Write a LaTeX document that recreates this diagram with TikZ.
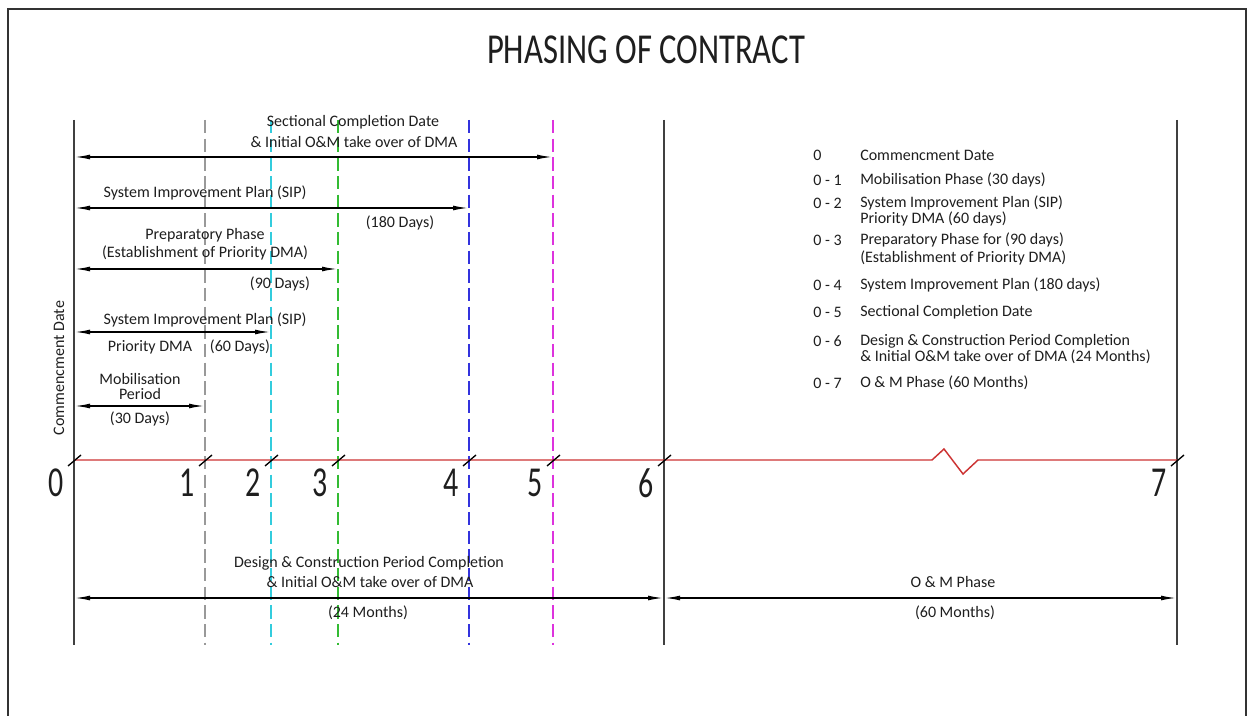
\documentclass[tikz,border=0pt]{standalone}
\usepackage{fontspec}
\setmainfont{Carlito}
\usetikzlibrary{arrows.meta}
\definecolor{axred}{HTML}{CC3333}
\definecolor{lcyan}{HTML}{33CCDD}
\definecolor{lgreen}{HTML}{33BB33}
\definecolor{lblue}{HTML}{3333DD}
\definecolor{lmag}{HTML}{DD33DD}
\definecolor{txtc}{HTML}{1E1E1E}
\begin{document}
\begin{tikzpicture}[x=0.75pt,y=-0.75pt,
  txt/.style={font=\fontsize{12}{13}\selectfont, text=txtc, inner sep=0pt},
  leg/.style={txt, anchor=west},
  dim/.style={line width=1.2pt, {Latex[length=12pt,width=3.6pt]}-{Latex[length=12pt,width=3.6pt]}},
  solidv/.style={line width=1.3pt, black!75},
  dashv/.style={line width=1pt, dash pattern=on 10pt off 4pt},
  tickmark/.style={line width=1pt, black},
  num/.style={font=\fontsize{32}{32}\selectfont, xscale=0.7, inner sep=0pt, anchor=east, text=txtc}
]
\useasboundingbox (0,0) rectangle (1249,716);
% frame
\draw[line width=1.5pt, black!80] (8,730) -- (8,9) -- (1246,9) -- (1246,730);
% title
\node[font=\fontsize{32}{32}\selectfont, xscale=0.765, inner sep=0pt, text=txtc] (title) at (646,50) {PHASING OF CONTRACT};

% vertical line coordinates
\foreach \n/\x in {0/74,1/205,2/271,3/338,4/469,5/553,6/664,7/1177}{
  \coordinate (T\n) at (\x,120);
  \coordinate (B\n) at (\x,645);
  \coordinate (A\n) at (\x,460);
}
\draw[solidv] (T0) -- (B0);
\draw[solidv] (T6) -- (B6);
\draw[solidv] (T7) -- (B7);
\draw[dashv, gray!80] (T1) -- (B1);
\draw[dashv, lcyan] (T2) -- (B2);
\draw[dashv, lgreen] (T3) -- (B3);
\draw[dashv, lblue, line width=1.8pt] (T4) -- (B4);
\draw[dashv, lmag] (T5) -- (B5);

% axis with break
\coordinate (z1) at (932,460);
\coordinate (z2) at (944,449);
\coordinate (z3) at (963,474);
\coordinate (z4) at (978,460);
\draw[axred, line width=1.1pt] (A0) -- (z1) -- (z2) -- (z3) -- (z4) -- (A7);

% ticks and numbers
\foreach \n/\x in {0/74,1/205,2/271,3/338,4/469,5/553,6/664,7/1177}{
  \draw[tickmark] (\x-6,466) -- (\x+7,455);
  \node[num] (n\n) at (\x-10,483) {\n};
}

% dimension arrows
\coordinate (s0) at (74,157);  \coordinate (s5) at (553,157);
\coordinate (p0) at (74,208);  \coordinate (p4) at (469,208);
\coordinate (q0) at (74,269);  \coordinate (q3) at (338,269);
\coordinate (r0) at (74,332);  \coordinate (r2) at (271,332);
\coordinate (m0) at (74,406);  \coordinate (m1) at (205,406);
\coordinate (d0) at (74,598);  \coordinate (d6) at (664,598);
\coordinate (d7) at (1177,598);
\draw[dim] (s0) -- (s5);
\draw[dim] (p0) -- (p4);
\draw[dim] (q0) -- (q3);
\draw[dim] (r0) -- (r2);
\draw[dim] (m0) -- (m1);
\draw[dim] (d0) -- (d6);
\draw[dim] (d6) -- (d7);

% labels
\node[txt] (t1) at (353,122) {Sectional Completion Date};
\node[txt] (t2) at (354,142) {\& Initial O\&M take over of DMA};
\node[txt] (t3) at (205,193) {System Improvement Plan (SIP)};
\node[txt] (t4) at (400,223) {(180 Days)};
\node[txt] (t5) at (205,235) {Preparatory Phase};
\node[txt] (t6) at (205,253) {(Establishment of Priority DMA)};
\node[txt] (t7) at (280,284) {(90 Days)};
\node[txt] (t8) at (205,320) {System Improvement Plan (SIP)};
\node[txt] (t9) at (150,347) {Priority DMA};
\node[txt] (t10) at (240,347) {(60 Days)};
\node[txt] (t11) at (140,379) {Mobilisation};
\node[txt] (t12) at (140,394) {Period};
\node[txt] (t13) at (140,419) {(30 Days)};
\node[txt, rotate=90] (t14) at (59,368) {Commencment Date};
\node[txt] (t15) at (369,563) {Design \& Construction Period Completion};
\node[txt] (t16) at (370,582) {\& Initial O\&M take over of DMA};
\node[txt] (t17) at (368,613) {(24 Months)};
\node[txt] (t18) at (953,582) {O \& M Phase};
\node[txt] (t19) at (955,613) {(60 Months)};

% legend
\node[leg] (c0) at (813,155) {0};
\node[leg] (l0) at (860,155) {Commencment Date};
\node[leg] (c1) at (813,180) {0 - 1};
\node[leg] (l1) at (860,180) {Mobilisation Phase (30 days)};
\node[leg] (c2) at (813,203) {0 - 2};
\node[leg] (l2) at (860,203) {System Improvement Plan (SIP)};
\node[leg] (l2b) at (860,219) {Priority DMA (60 days)};
\node[leg] (c3) at (813,240) {0 - 3};
\node[leg] (l3) at (860,240) {Preparatory Phase for (90 days)};
\node[leg] (l3b) at (860,258) {(Establishment of Priority DMA)};
\node[leg] (c4) at (813,285) {0 - 4};
\node[leg] (l4) at (860,285) {System Improvement Plan (180 days)};
\node[leg] (c5) at (813,312) {0 - 5};
\node[leg] (l5) at (860,312) {Sectional Completion Date};
\node[leg] (c6) at (813,341) {0 - 6};
\node[leg] (l6) at (860,341) {Design \& Construction Period Completion};
\node[leg] (l6b) at (860,357) {\& Initial O\&M take over of DMA (24 Months)};
\node[leg] (c7) at (813,383) {0 - 7};
\node[leg] (l7) at (860,383) {O \& M Phase (60 Months)};
\end{tikzpicture}
\end{document}
